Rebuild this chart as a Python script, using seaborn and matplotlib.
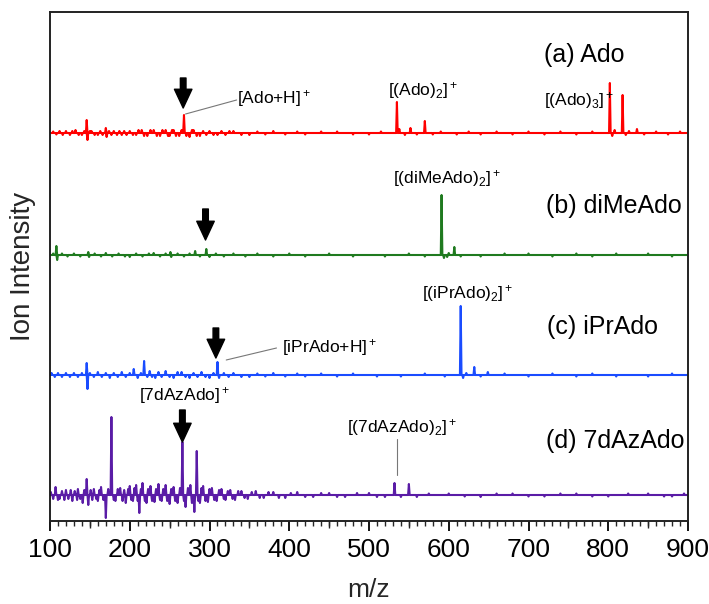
import numpy as np
import pandas as pd
import matplotlib
matplotlib.use("Agg")
import matplotlib.pyplot as plt
import seaborn as sns
from matplotlib.ticker import MultipleLocator

# ---------------- data: (m/z, intensity) of peaks and noise spikes ----------------
ado_mz = [104, 108, 112, 116, 120, 125, 128, 132, 136, 140, 143, 146, 147, 150, 152,
          156, 160, 163, 166, 170, 171, 174, 177, 180, 184, 187, 190, 193, 196, 200,
          204, 208, 211, 215, 218, 222, 226, 230, 234, 238, 241, 245, 248, 250, 253,
          255, 258, 262, 265, 268, 271, 275, 278, 280, 284, 288, 292, 296, 300, 305,
          310, 315, 320, 325, 330, 340, 350, 360, 370, 380, 395, 410, 420, 440, 460,
          480, 500, 515, 535, 538, 545, 552, 560, 570, 580, 590, 610, 625, 640, 660,
          680, 700, 720, 740, 760, 780, 802, 805, 808, 818, 822, 826, 836, 845, 860,
          875, 890]
ado_int = [1.5, -1.5, 2, -2, 2, -2, 2, 3, -2, -2, 2, 13, -7, 2, 2,
           -2, -2, 2, -2, 5, -4, 2, -2, 2, -2, 2, -2, 2, -2, 2,
           -2, -2, 3, 3, -3, -3, 3, 3, -3, -3, 3, 3, -3, -3, 3,
           3, -3, -3, 3, 18, -3, -4, 3, 3, -3, -3, 2, -2, 2, -2,
           -2, 2, -2, 2, 2, -2, -2, 1.5, -1.5, 2, -1.5, 1.5, -1.5, 1.5, 1.5,
           -1.5, -1.5, 1.5, 31, 4, -2, 5, -1.5, 12, -1.5, 1.5, -1.5, 1.5, -1.5, 1.5,
           -1.5, 1.5, -1.5, 1.5, -1.5, 1.5, 50, -3, 3, 38, -2, 2, 4, -1.5, 1.5,
           -1.5, 1.5]

dime_mz = [104, 108, 109, 115, 122, 130, 138, 148, 149, 156, 164, 170, 178, 186, 194,
           200, 208, 216, 224, 230, 238, 245, 251, 252, 260, 268, 275, 282, 288, 296,
           300, 308, 318, 330, 345, 360, 380, 400, 420, 450, 480, 520, 550, 570, 591,
           594, 598, 600, 607, 615, 640, 670, 700, 730, 760, 780, 810, 850, 880]
dime_int = [1.5, 9, -5, 1.5, -1.5, 1.5, -1.5, 3, -2, 1.5, -1.5, 2, -1.5, 1.5, -1.5,
            -2, 1.5, -1.5, 1.5, 2, -1.5, 1.5, 3, -2, 1.5, -1.5, 1.5, 4, -1.5, 6,
            -2, 1.5, -1.5, 1.5, -1.5, 1.5, -1.5, 1.5, -1.5, 1.5, -1.5, -1.5, 1.5, -1.5, 60,
            -3, -2, 2, 8, -1.5, -1.5, 1.5, 1.5, -1.5, 1.5, -1.5, 1.5, 1.5, -1.5]

ipr_mz = [102, 106, 110, 115, 120, 125, 130, 135, 140, 146, 147, 150, 155, 160, 165,
          170, 175, 180, 185, 190, 195, 200, 205, 210, 214, 218, 222, 225, 228, 232,
          236, 240, 245, 250, 255, 260, 265, 270, 275, 280, 285, 290, 295, 300, 305,
          310, 312, 318, 324, 330, 340, 350, 360, 370, 380, 395, 410, 420, 440, 460,
          480, 510, 540, 570, 595, 615, 618, 622, 632, 640, 649, 670, 700, 730, 760,
          780, 810, 850, 880]
ipr_int = [2, -2, 2, -2, 2, -2, 2, -2, 2, 12, -14, 2, -2, 3, -2,
           2, -3, 2, -2, 3, -2, 2, 6, -3, 2, 14, -2, 4, -2, -3,
           3, -2, 4, -2, -3, 3, 3, -2, -3, 2, -2, 3, -2, -3, 2,
           13, -3, 2, -2, 2, -2, -2, 1.5, -1.5, 2, -1.5, 1.5, -1.5, 1.5, -1.5,
           1.5, -1.5, -1.5, 1.5, -1.5, 69, -3, 2, 8, -1.5, 3, 1.5, -1.5, 1.5, -1.5,
           1.5, -1.5, -1.5, 1.5]

aza_mz = [101, 104, 107, 110, 112, 115, 118, 120, 123, 126, 128, 131, 134, 135, 138,
          141, 143, 146, 148, 151, 153, 155, 158, 160, 162, 164, 167, 170, 173, 177,
          180, 182, 185, 188, 191, 193, 195, 198, 200, 202, 204, 206, 208, 210, 212,
          214, 216, 219, 221, 223, 226, 228, 231, 233, 236, 238, 240, 242, 245, 247,
          250, 252, 255, 257, 260, 263, 266, 268, 270, 273, 276, 278, 281, 284, 286,
          288, 290, 292, 295, 298, 300, 303, 306, 309, 312, 315, 318, 320, 323, 326,
          329, 332, 336, 340, 344, 348, 353, 358, 363, 368, 374, 380, 387, 395, 402,
          410, 420, 430, 440, 450, 460, 470, 485, 500, 510, 520, 532, 540, 550, 560,
          575, 600, 620, 640, 660, 680, 700, 720, 740, 760, 780, 800, 825, 850, 870,
          880, 895]
aza_int = [3, -4, 8, -5, -4, 4, -5, 5, -4, 5, -6, 4, -5, 6, -4,
           -8, 5, 16, -10, 5, -5, 6, -4, -6, 5, 8, -5, -23, 6, 78,
           -5, -6, 6, 7, -6, 5, -8, 6, 9, -5, -6, 7, 10, -6, -18,
           6, 12, -6, -8, 6, 9, -6, -7, 6, 11, -5, -6, 6, 10, -6,
           -9, 6, 8, -6, -8, 7, 53, -6, -12, 7, 10, -8, -17, 44, -6,
           -8, 7, 9, -6, -7, 6, 7, -5, -6, 5, 6, -4, -5, 4, 5,
           -4, -5, 4, 4, -3, -4, 3, 4, -3, -3, 3, 3, -3, -3, 2,
           3, -2, -2, 2, 2, -2, -2, 2, 2, -2, -2, 12, -2, 11, -2,
           1.5, 1.5, -1.5, -2, 1.5, 1.5, -1.5, -1.5, 1.5, 1.5, -1.5, -1.5, 1.5, 1.5, -1.5,
           -1.5, 1.5]

series_names = ["(a) Ado", "(b) diMeAdo", "(c) iPrAdo", "(d) 7dAzAdo"]
series_colors = ["#ff0000", "#1f7a1f", "#1a4cff", "#5a1ca6"]
tick_labels = ["100", "200", "300", "400", "500", "600", "700", "800", "900"]

# ---------------- figure ----------------
sns.set_theme(style="white")
plt.rcParams["font.family"] = ["Liberation Sans", "DejaVu Sans"]
plt.rcParams["mathtext.fontset"] = "custom"
plt.rcParams["mathtext.rm"] = "Liberation Sans"
plt.rcParams["mathtext.it"] = "Liberation Sans:italic"
plt.rcParams["mathtext.bf"] = "Liberation Sans:bold"

fig = plt.figure(figsize=(7.09, 6.04), dpi=100)
ax = fig.add_axes([50 / 709, 83 / 604, 638 / 709, 509 / 604])

offsets = [388, 266, 146, 26]


def stick(mz, inten, hw=1.0):
    xs, ys = [100.0], [0.0]
    for m, h in sorted(zip(mz, inten)):
        xs += [m - hw, m, m + hw]
        ys += [0.0, h, 0.0]
    xs.append(900.0)
    ys.append(0.0)
    return np.array(xs), np.array(ys)


all_data = [(ado_mz, ado_int), (dime_mz, dime_int), (ipr_mz, ipr_int), (aza_mz, aza_int)]
for (mz, it), off, col in zip(all_data, offsets, series_colors):
    xs, ys = stick(mz, it)
    df = pd.DataFrame({"mz": xs, "I": ys + off})
    sns.lineplot(data=df, x="mz", y="I", sort=False, estimator=None,
                 color=col, lw=1.5, ax=ax)

ax.set_xlim(100, 900)
ax.set_ylim(0, 509)
ax.set_yticks([])
ax.set_xticks(range(100, 901, 100))
ax.set_xticklabels(tick_labels)
ax.xaxis.set_minor_locator(MultipleLocator(10))
ax.tick_params(axis="x", which="major", direction="out", length=7, width=1.3,
               bottom=True, labelsize=19, pad=5, colors="black")
ax.tick_params(axis="x", which="minor", direction="out", length=3.5, width=1.0,
               bottom=True)
sec = ax.secondary_xaxis("bottom")
sec.set_xticks(range(150, 900, 100))
sec.tick_params(length=5, width=1.0, labelbottom=False)
sec.spines["bottom"].set_visible(False)

for s in ax.spines.values():
    s.set_visible(True)
    s.set_color("#222222")
    s.set_linewidth(1.4)

ax.set_xlabel("m/z", fontsize=19)
ax.xaxis.set_label_coords(0.5, -0.112)
ax.set_ylabel("Ion Intensity", fontsize=20)
ax.yaxis.set_label_coords(-0.022, 0.5)

# series labels
lab_pos = [(720, 466), (722, 315), (723, 194), (722, 80)]
for name, (x, y) in zip(series_names, lab_pos):
    ax.text(x, y, name, fontsize=18, va="center", ha="left", color="black")

# peak labels
peak_labels = [
    ("[Ado+H]$^+$", 335, 423),
    ("[(Ado)$_2$]$^+$", 524, 431),
    ("[(Ado)$_3$]$^+$", 719, 421),
    ("[(diMeAdo)$_2$]$^+$", 530, 343),
    ("[(iPrAdo)$_2$]$^+$", 566, 228),
    ("[iPrAdo+H]$^+$", 391, 174),
    ("[7dAzAdo]$^+$", 212, 126),
    ("[(7dAzAdo)$_2$]$^+$", 473, 94),
]
for t, x, y in peak_labels:
    ax.text(x, y, t, fontsize=12.5, va="center", ha="left", color="black")

# leader lines
for (x0, y0, x1, y1) in [(270, 407, 334, 421), (321, 161, 384, 173), (535, 46, 535, 82)]:
    ax.plot([x0, x1], [y0, y1], color="#777777", lw=0.8)

# arrows
for x, ytop, ytip in [(267, 443, 413), (295, 312, 281), (308, 193, 163), (266, 111, 79)]:
    ax.annotate("", xy=(x, ytip), xytext=(x, ytop),
                arrowprops=dict(arrowstyle="simple,head_length=1.5,head_width=1.4,tail_width=0.45",
                                color="black", mutation_scale=9, shrinkA=0, shrinkB=0))

fig.savefig("out.png", dpi=100)
